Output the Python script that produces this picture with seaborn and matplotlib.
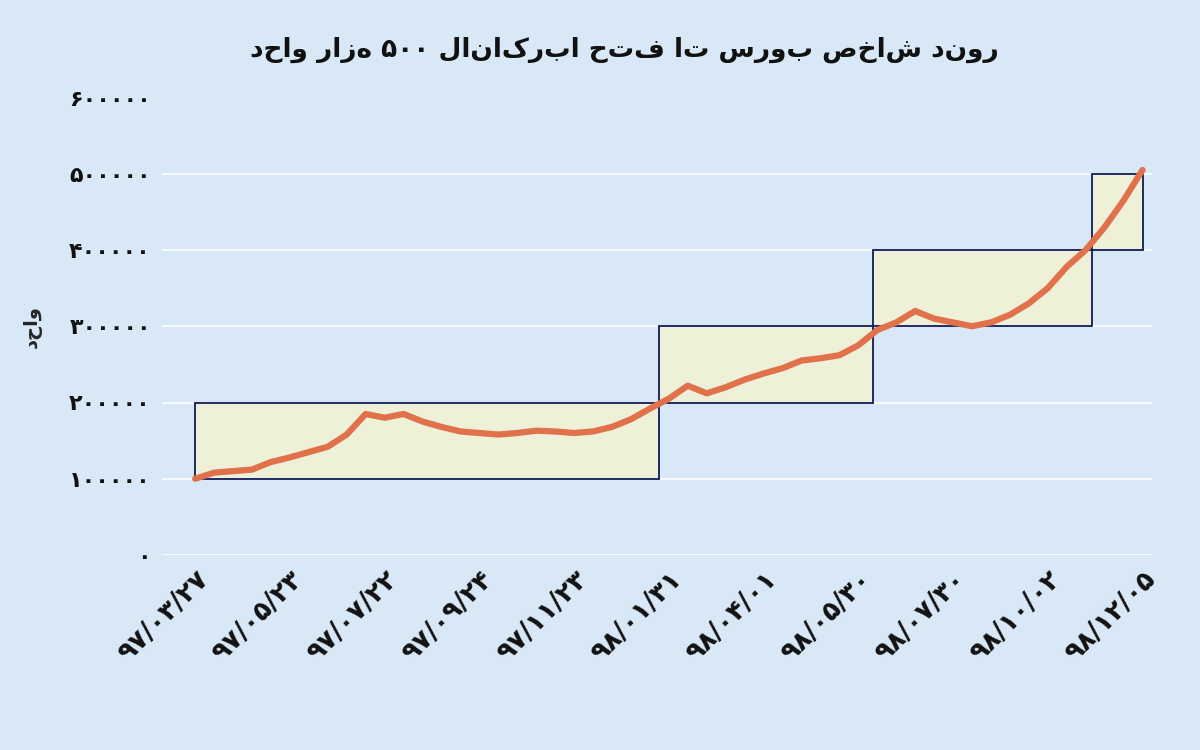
import matplotlib
matplotlib.use("Agg")
import matplotlib.pyplot as plt
import seaborn as sns
import pandas as pd
from matplotlib.patches import Rectangle

sns.set_style("white")
plt.rcParams['font.family'] = ['DejaVu Sans']

def rtl(s):
    out = []
    for w in reversed(s.split()):
        if all(ch in '۰۱۲۳۴۵۶۷۸۹' for ch in w):
            out.append(w)
        else:
            out.append(w[::-1])
    return ' '.join(out)

title = "روند شاخص بورس تا فتح ابرکانال ۵۰۰ هزار واحد"
ylabel = "واحد"
pos = list(range(0, 101, 2))
values = [100000, 108000, 110000, 112000, 122000, 128000, 135000, 142000, 158000, 185000,
          180000, 185000, 175000, 168000, 162000, 160000, 158000, 160000, 163000, 162000,
          160000, 162000, 168000, 178000, 192000, 205000, 222000, 212000, 220000, 230000,
          238000, 245000, 255000, 258000, 262000, 275000, 295000, 305000, 320000, 310000,
          305000, 300000, 305000, 315000, 330000, 350000, 378000, 400000, 430000, 465000, 505000]
tick_pos = list(range(0, 101, 10))
tick_labels = ["۹۷/۰۳/۲۷", "۹۷/۰۵/۲۳", "۹۷/۰۷/۲۲", "۹۷/۰۹/۲۴", "۹۷/۱۱/۲۳", "۹۸/۰۱/۳۱",
               "۹۸/۰۴/۰۱", "۹۸/۰۵/۳۰", "۹۸/۰۷/۳۰", "۹۸/۱۰/۰۲", "۹۸/۱۲/۰۵"]
y_ticks = [0, 100000, 200000, 300000, 400000, 500000, 600000]
y_labels = ["۰", "۱۰۰۰۰۰", "۲۰۰۰۰۰", "۳۰۰۰۰۰", "۴۰۰۰۰۰", "۵۰۰۰۰۰", "۶۰۰۰۰۰"]
boxes = [(0, 49, 100000, 200000), (49, 71.6, 200000, 300000),
         (71.6, 94.7, 300000, 400000), (94.7, 100, 400000, 500000)]

bg = "#d9e8f6"
fig = plt.figure(figsize=(12, 7.5), dpi=100, facecolor=bg)
ax = fig.add_axes([0.135, 0.26, 0.825, 0.61], facecolor=bg)
ax.set_ylim(0, 600000)
ax.set_xlim(-3.5, 101)
for y in y_ticks:
    ax.axhline(y, color="white", lw=1.2, zorder=0)
for x0, x1, y0, y1 in boxes:
    ax.add_patch(Rectangle((x0, y0), x1 - x0, y1 - y0, facecolor="#eef0d8",
                           edgecolor="#101c5a", lw=1.3, zorder=1))
df = pd.DataFrame({"x": pos, "y": values})
sns.lineplot(data=df, x="x", y="y", ax=ax, color="#e0714a", lw=4.5, zorder=3)
ax.set_xticks(tick_pos)
ax.set_xticklabels(tick_labels, rotation=45, ha="right", rotation_mode="anchor",
                   fontsize=19, fontweight="bold", color="#111")
ax.set_yticks(y_ticks)
ax.set_yticklabels(y_labels, fontsize=16, fontweight="bold", color="#111")
ax.tick_params(length=0, pad=8)
ax.set_xlabel("")
ax.set_ylabel(ylabel[::-1], fontsize=14, fontweight="bold", labelpad=20)
for s in ax.spines.values():
    s.set_visible(False)
fig.text(0.52, 0.925, rtl(title), ha="center", fontsize=19, fontweight="bold", color="#111")
fig.savefig("out.png", facecolor=bg)
